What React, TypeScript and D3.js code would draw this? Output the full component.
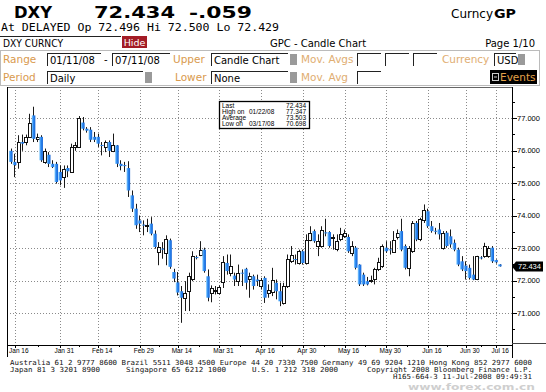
import { useEffect, useRef } from 'react'
import * as d3 from 'd3'

// DXY daily candles, 01/11/08 - 07/11/08
const openPx = [
  75.99, 75.65, 75.65, 76.26, 76.28, 76.42, 77.08, 76.33, 76.42, 75.65,
  75.87, 75.59, 75.59, 75.34, 75.18, 75.46, 75.34, 76.11, 76.11, 76.86,
  76.67, 76.64, 76.42, 76.42, 76.17, 76.11, 76.26, 75.99, 76.16, 75.59,
  75.55, 75.46, 74.62, 74.21, 73.85, 73.72, 73.70, 73.75, 73.44, 72.88,
  72.98, 72.83, 73.24, 72.26, 71.94, 71.67, 71.47, 71.67, 72.03, 72.72,
  72.80, 72.95, 72.13, 71.62, 71.70, 71.62, 71.93, 72.54, 72.24, 72.15,
  71.98, 72.24, 72.36, 72.03, 72.13, 72.03, 71.85, 72.08, 71.62, 71.67,
  71.93, 71.67, 71.31, 71.83, 72.59, 72.66, 72.54, 72.90, 72.54, 73.26,
  73.52, 73.06, 73.06, 73.48, 73.49, 73.33, 72.95, 73.26, 73.38, 73.34,
  72.85, 73.01, 72.49, 72.18, 71.98, 72.00, 72.03, 72.34, 72.44, 73.01,
  72.96, 72.90, 73.36, 73.52, 73.06, 72.39, 72.90, 73.77, 73.26, 73.88,
  74.13, 73.67, 73.53, 73.57, 73.01, 73.47, 73.36, 73.16, 72.95, 72.59,
  72.46, 72.39, 72.18, 72.03, 72.71, 72.75, 72.75, 73.01, 72.63, 72.496,
]
const highPx = [
  76.06, 75.90, 76.47, 76.49, 76.49, 77.13, 77.347, 76.52, 76.47, 76.06,
  75.95, 75.70, 75.65, 75.54, 75.54, 75.54, 76.21, 76.26, 77.06, 77.03,
  76.72, 76.72, 76.57, 76.52, 76.26, 76.31, 76.31, 76.52, 76.17, 75.70,
  75.65, 75.67, 74.77, 74.36, 74.00, 73.85, 73.90, 73.95, 73.54, 73.18,
  73.18, 73.39, 73.29, 72.36, 72.26, 71.83, 71.98, 72.24, 72.90, 72.77,
  73.21, 73.01, 72.34, 71.85, 71.83, 71.85, 72.75, 72.80, 72.80, 72.24,
  72.49, 72.34, 72.39, 72.24, 72.18, 72.18, 72.08, 72.13, 71.88, 72.39,
  72.03, 71.93, 71.93, 72.80, 73.06, 72.80, 72.95, 72.95, 73.42, 73.67,
  73.57, 73.42, 73.67, 73.90, 73.52, 73.42, 73.42, 73.62, 73.57, 73.42,
  73.21, 73.06, 72.50, 72.24, 72.11, 72.15, 72.39, 72.70, 73.11, 73.21,
  73.21, 73.52, 73.57, 73.90, 73.11, 73.06, 73.83, 73.83, 73.93, 74.34,
  74.21, 73.83, 73.62, 73.77, 73.52, 73.52, 73.57, 73.26, 73.01, 72.75,
  72.59, 72.49, 72.75, 72.76, 72.75, 73.16, 73.06, 73.06, 72.65, 72.500,
]
const lowPx = [
  75.59, 75.18, 75.44, 75.99, 76.16, 76.40, 76.26, 76.26, 75.65, 75.59,
  75.49, 75.46, 74.98, 74.93, 74.85, 75.18, 75.32, 75.99, 76.08, 76.62,
  76.55, 76.26, 76.26, 76.11, 75.85, 75.95, 75.80, 75.95, 75.49, 75.39,
  75.34, 74.57, 74.11, 73.59, 73.49, 73.39, 73.49, 73.39, 72.98, 72.47,
  72.67, 72.47, 72.36, 71.95, 71.54, 70.698, 71.06, 71.06, 71.98, 72.65,
  72.75, 72.24, 71.36, 71.33, 71.57, 71.57, 71.77, 72.18, 72.13, 71.83,
  71.83, 71.83, 71.72, 71.47, 71.72, 71.83, 71.72, 71.31, 71.47, 71.52,
  71.42, 71.21, 71.26, 71.77, 72.54, 72.49, 72.49, 72.49, 72.49, 73.21,
  73.16, 72.75, 73.01, 73.36, 73.01, 72.95, 72.90, 73.21, 73.31, 72.85,
  72.75, 72.34, 71.83, 71.83, 71.85, 71.93, 71.88, 72.29, 72.39, 72.85,
  72.80, 72.85, 73.26, 72.90, 72.34, 72.13, 72.85, 73.21, 73.21, 73.77,
  73.62, 73.47, 73.42, 73.26, 72.95, 73.01, 73.01, 72.90, 72.44, 72.29,
  72.03, 72.03, 72.01, 72.01, 72.65, 72.70, 72.70, 72.54, 72.52, 72.429,
]
const closePx = [
  75.65, 75.55, 76.26, 76.21, 76.42, 76.86, 76.36, 76.40, 75.70, 75.99,
  75.59, 75.49, 75.03, 75.08, 75.44, 75.36, 76.11, 76.16, 77.00, 76.67,
  76.61, 76.33, 76.33, 76.21, 76.15, 76.26, 75.99, 76.16, 75.59, 75.52,
  75.53, 74.77, 74.21, 73.70, 73.75, 73.70, 73.71, 73.44, 73.03, 73.03,
  72.97, 73.27, 72.42, 72.06, 71.63, 71.47, 71.62, 72.13, 72.75, 72.70,
  72.95, 72.29, 71.47, 71.77, 71.72, 71.81, 72.56, 72.29, 72.44, 72.03,
  72.22, 72.22, 71.93, 72.13, 71.83, 71.98, 72.03, 71.47, 71.72, 72.03,
  71.67, 71.36, 71.83, 72.65, 72.77, 72.64, 72.90, 72.54, 73.26, 73.47,
  73.21, 73.21, 73.55, 73.46, 73.06, 73.34, 73.21, 73.42, 73.47, 72.90,
  73.06, 72.39, 71.88, 71.88, 71.88, 72.01, 72.34, 72.56, 73.06, 72.90,
  72.95, 73.26, 73.47, 72.95, 72.39, 73.01, 73.77, 73.26, 73.88, 74.18,
  73.67, 73.52, 73.51, 73.42, 73.47, 73.06, 73.11, 72.95, 72.49, 72.34,
  72.29, 72.08, 72.03, 72.75, 72.70, 73.06, 73.01, 72.59, 72.56, 72.434,
]

// axis labels sit at trading-day positions
const xTickLabels = ['Jan 16', 'Jan 31', 'Feb 14', 'Feb 29', 'Mar 14', 'Mar 31', 'Apr 16', 'Apr 30', 'May 16', 'May 30', 'Jun 16', 'Jun 30', 'Jul 16']
const xTickIndex = [1, 13, 23, 34, 44, 55, 66, 77, 88, 99, 110, 120, 128]
const yTicks = [71, 72, 73, 74, 75, 76, 77]

const statLabels = ['Last', 'High on', 'Average', 'Low on']
const statDates = ['', '01/22/08', '', '03/17/08']
const statValues = ['72.434', '77.347', '73.503', '70.698']

const lastPrice = 72.434

const ORANGE = '#d99a4e'
const UI = '"DejaVu Sans", sans-serif'
const MONO = '"DejaVu Sans Mono", monospace'
const AX = '"Liberation Sans", Arial, sans-serif'

function Field({ x, y, w, text }) {
  return (
    <g>
      <rect x={x} y={y} width={w} height={13} fill="#fff" />
      <line x1={x} x2={x + w} y1={y + 0.5} y2={y + 0.5} stroke="#222" />
      <line x1={x + 0.5} x2={x + 0.5} y1={y} y2={y + 13} stroke="#222" />
      {text && <text x={x + 3} y={y + 10.5} fontSize={10} fontFamily={UI}>{text}</text>}
    </g>
  )
}

function Header() {
  return (
    <g>
      <text x={14} y={18} fontSize={15} fontWeight="bold" fontFamily={UI} textLength={38} lengthAdjust="spacingAndGlyphs">DXY</text>
      <text x={94} y={18} fontSize={15} fontWeight="bold" fontFamily={UI} textLength={81} lengthAdjust="spacingAndGlyphs">72.434</text>
      <text x={189} y={18} fontSize={15} fontWeight="bold" fontFamily={UI} textLength={63} lengthAdjust="spacingAndGlyphs">-.059</text>
      <text x={451} y={18} fontSize={12} fontFamily={UI} textLength={42} lengthAdjust="spacingAndGlyphs">Curncy</text>
      <text x={494} y={18} fontSize={12} fontWeight="bold" fontFamily={UI} textLength={22} lengthAdjust="spacingAndGlyphs">GP</text>
      <text x={1} y={31} fontSize={11} fontFamily={MONO} textLength={278} lengthAdjust="spacingAndGlyphs">At DELAYED  Op 72.496 Hi 72.500 Lo 72.429</text>

      {/* row 3 */}
      <line x1={0} x2={121} y1={36.5} y2={36.5} stroke="#222" />
      <text x={3} y={47} fontSize={10} fontFamily={UI} textLength={60} lengthAdjust="spacingAndGlyphs">DXY CURNCY</text>
      <rect x={122} y={36} width={25} height={12} fill="#a31c26" />
      <text x={134.5} y={45.5} fontSize={9.5} fill="#fff" textAnchor="middle" fontFamily={UI}>Hide</text>
      <text x={318} y={47} fontSize={10} textAnchor="middle" fontFamily={UI}>GPC - Candle Chart</text>
      <text x={535} y={47} fontSize={10} textAnchor="end" fontFamily={UI}>Page 1/10</text>

      {/* settings block */}
      <rect x={0.5} y={50.5} width={539} height={35} fill="none" stroke="#bbb" />
      <text x={3} y={63} fontSize={10.5} fill={ORANGE} fontFamily={UI}>Range</text>
      <Field x={47} y={53} w={54} text="01/11/08" />
      <text x={104} y={63} fontSize={10} fontFamily={UI}>-</text>
      <Field x={112} y={53} w={58} text="07/11/08" />
      <text x={173} y={63} fontSize={10.5} fill={ORANGE} fontFamily={UI}>Upper</text>
      <Field x={211} y={53} w={77} text="Candle Chart" />
      <rect x={290} y={54} width={7} height={11} fill="#9a9a9a" />
      <text x={301} y={63} fontSize={10.5} fill={ORANGE} fontFamily={UI} opacity={0.8}>Mov. Avgs</text>
      <Field x={357} y={53} w={24} />
      <Field x={385} y={53} w={24} />
      <Field x={413} y={53} w={24} />
      <text x={442} y={63} fontSize={10.5} fill={ORANGE} fontFamily={UI} opacity={0.8}>Currency</text>
      <Field x={494} y={53} w={22} text="USD" />
      <rect x={518} y={54} width={7} height={11} fill="#9a9a9a" />

      <text x={3} y={81} fontSize={10.5} fill={ORANGE} fontFamily={UI}>Period</text>
      <Field x={47} y={71} w={96} text="Daily" />
      <rect x={145} y={72} width={7} height={11} fill="#9a9a9a" />
      <text x={175} y={81} fontSize={10.5} fill={ORANGE} fontFamily={UI}>Lower</text>
      <Field x={211} y={71} w={77} text="None" />
      <rect x={290} y={72} width={7} height={11} fill="#9a9a9a" />
      <text x={301} y={81} fontSize={10.5} fill={ORANGE} fontFamily={UI} opacity={0.8}>Mov. Avg</text>
      <Field x={357} y={71} w={24} />
      <rect x={490} y={70} width={47} height={14} fill="#000" />
      <rect x={492.5} y={73.5} width={6} height={7} fill="none" stroke="#ccc" />
      <line x1={494} x2={497} y1={77} y2={77} stroke="#ccc" />
      <text x={500} y={81} fontSize={10.5} fill="#e3a24a" fontFamily={UI}>Events</text>
    </g>
  )
}

function Footer() {
  return (
    <g fontFamily={MONO} fontSize={7} fill="#111">
      <text x={10} y={365} textLength={522} lengthAdjust="spacingAndGlyphs">Australia 61 2 9777 8600 Brazil 5511 3048 4500 Europe 44 20 7330 7500 Germany 49 69 9204 1210 Hong Kong 852 2977 6000</text>
      <text x={10} y={372} textLength={90} lengthAdjust="spacingAndGlyphs">Japan 81 3 3201 8900</text>
      <text x={126} y={372} textLength={100} lengthAdjust="spacingAndGlyphs">Singapore 65 6212 1000</text>
      <text x={252} y={372} textLength={86} lengthAdjust="spacingAndGlyphs">U.S. 1 212 318 2000</text>
      <text x={367} y={372} textLength={165} lengthAdjust="spacingAndGlyphs">Copyright 2008 Bloomberg Finance L.P.</text>
      <text x={393} y={379} textLength={139} lengthAdjust="spacingAndGlyphs">H165-664-3 11-Jul-2008 09:49:31</text>
      <text x={408} y={390} fontFamily={UI} fontWeight="bold" fontSize={9.5} fill="#cfcfcf" textLength={127} lengthAdjust="spacingAndGlyphs">www.forex.com.cn</text>
    </g>
  )
}

function CandleChart() {
  const ref = useRef<SVGGElement>(null)

  useEffect(() => {
    const g = d3.select(ref.current)
    g.selectAll('*').remove()

    const left = 7, right = 512, top = 87, bottom = 345
    const x = d3.scaleLinear().domain([0, closePx.length - 1]).range([11, 500])
    const y = d3.scaleLinear().domain([71, 77]).range([313, 118])
    const px = (v: number) => Math.round(v) + 0.5

    // grid
    g.append('g').selectAll('line').data(yTicks).enter().append('line')
      .attr('x1', left).attr('x2', right)
      .attr('y1', d => px(y(d))).attr('y2', d => px(y(d)))
      .attr('stroke', '#8a8a8a').attr('stroke-dasharray', '1,2')
    g.append('g').selectAll('line').data(xTickIndex).enter().append('line')
      .attr('x1', d => px(x(d))).attr('x2', d => px(x(d)))
      .attr('y1', top).attr('y2', bottom)
      .attr('stroke', '#8a8a8a').attr('stroke-dasharray', '1,2')

    // frame
    const frame = g.append('g').attr('stroke', '#000').attr('shape-rendering', 'crispEdges')
    frame.append('line').attr('x1', left).attr('x2', right).attr('y1', top + 0.5).attr('y2', top + 0.5).attr('stroke', '#666')
    frame.append('line').attr('x1', left + 0.5).attr('x2', left + 0.5).attr('y1', top).attr('y2', 357).attr('stroke-width', 1.5)
    frame.append('line').attr('x1', left).attr('x2', right).attr('y1', bottom + 0.5).attr('y2', bottom + 0.5).attr('stroke-width', 1.5)
    frame.append('line').attr('x1', right + 0.5).attr('x2', right + 0.5).attr('y1', top).attr('y2', 358).attr('stroke-width', 1.5)
    frame.append('line').attr('x1', right).attr('x2', 546).attr('y1', 343.5).attr('y2', 343.5).attr('stroke', '#444')

    // x axis ticks + labels
    const xt = g.append('g')
    xt.selectAll('line.major').data(xTickIndex).enter().append('line')
      .attr('x1', d => px(x(d))).attr('x2', d => px(x(d)))
      .attr('y1', bottom).attr('y2', bottom + 3).attr('stroke', '#000')
    xt.selectAll('line.minor').data(xTickIndex.slice(0, -1)).enter().append('line')
      .attr('x1', (d, i) => px((x(d) + x(xTickIndex[i + 1])) / 2))
      .attr('x2', (d, i) => px((x(d) + x(xTickIndex[i + 1])) / 2))
      .attr('y1', bottom).attr('y2', bottom + 2).attr('stroke', '#000')
    xt.selectAll('text').data(xTickIndex).enter().append('text')
      .attr('x', d => x(d) + 4).attr('y', 352.5)
      .attr('text-anchor', 'middle')
      .style('font-family', AX).style('font-size', '6.5px')
      .text((d, i) => xTickLabels[i])

    // y axis on the right
    const yt = g.append('g')
    yt.selectAll('line.minor').data(d3.range(70.5, 78, 1)).enter().append('line')
      .attr('x1', right).attr('x2', right + 3)
      .attr('y1', d => px(y(d))).attr('y2', d => px(y(d))).attr('stroke', '#000')
    yt.selectAll('line.major').data(yTicks).enter().append('line')
      .attr('x1', right).attr('x2', right + 5)
      .attr('y1', d => px(y(d))).attr('y2', d => px(y(d))).attr('stroke', '#000')
    yt.selectAll('text').data(yTicks).enter().append('text')
      .attr('x', right + 5).attr('y', d => y(d)).attr('dy', '0.35em')
      .style('font-family', AX).style('font-size', '7.5px')
      .text(d => d3.format('.3f')(d))

    // candles
    const idx = d3.range(closePx.length)
    const cg = g.append('g')
    cg.selectAll('line').data(idx).enter().append('line')
      .attr('x1', i => px(x(i) - 0.5)).attr('x2', i => px(x(i) - 0.5))
      .attr('y1', i => y(highPx[i])).attr('y2', i => y(lowPx[i]))
      .attr('stroke', '#1a1a1a').attr('stroke-width', 1)
    cg.selectAll('rect').data(idx).enter().append('rect')
      .each(function (i) {
        const up = closePx[i] >= openPx[i]
        const y0 = y(Math.max(openPx[i], closePx[i]))
        const y1 = y(Math.min(openPx[i], closePx[i]))
        const h = Math.max(1, y1 - y0)
        const r = d3.select(this)
        if (up) {
          r.attr('x', Math.round(x(i)) - 2 + 0.5).attr('width', 3)
            .attr('y', Math.round(y0) + 0.5).attr('height', Math.max(1, Math.round(h)))
            .attr('fill', '#fff').attr('stroke', '#111').attr('stroke-width', 1)
        } else {
          r.attr('x', x(i) - 2).attr('width', 3.6)
            .attr('y', y0).attr('height', h)
            .attr('fill', 'url(#blueBody)')
        }
      })

    // stats box
    const sb = g.append('g').style('font-family', AX).style('font-size', '6.5px')
    sb.append('rect').attr('x', 219.5).attr('y', 101.5).attr('width', 90).attr('height', 27)
      .attr('fill', '#fff').attr('stroke', '#000').attr('stroke-width', 1.3)
    statLabels.forEach((s, i) => {
      const by = 108 + i * 5.9
      sb.append('text').attr('x', 222).attr('y', by).text(s)
      if (statDates[i]) sb.append('text').attr('x', 249).attr('y', by).text(statDates[i])
      sb.append('text').attr('x', 306).attr('y', by).attr('text-anchor', 'end').text(statValues[i])
    })

    // last price marker
    const ly = y(lastPrice)
    g.append('path')
      .attr('d', `M${right},${ly} L${right + 4},${ly - 5} L${543},${ly - 5} L${543},${ly + 5} L${right + 4},${ly + 5} Z`)
      .attr('fill', '#000')
    g.append('text').attr('x', right + 6).attr('y', ly).attr('dy', '0.36em')
      .attr('fill', '#fff').style('font-family', AX).style('font-size', '7.5px')
      .text(d3.format('.3f')(lastPrice))
  }, [])

  return <g ref={ref} />
}

export default function App() {
  return (
    <div style={{ position: 'absolute', left: 0, top: 0, width: 546, height: 392, background: '#fff' }}>
      <svg width={546} height={392} style={{ display: 'block' }}>
        <defs>
          <linearGradient id="blueBody" x1="0" x2="1" y1="0" y2="0">
            <stop offset="0" stopColor="#8fd2ff" />
            <stop offset="0.45" stopColor="#2b88f0" />
            <stop offset="1" stopColor="#1463d6" />
          </linearGradient>
        </defs>
        <rect width={546} height={392} fill="#fff" />
        <Header />
        <CandleChart />
        <Footer />
      </svg>
    </div>
  )
}
